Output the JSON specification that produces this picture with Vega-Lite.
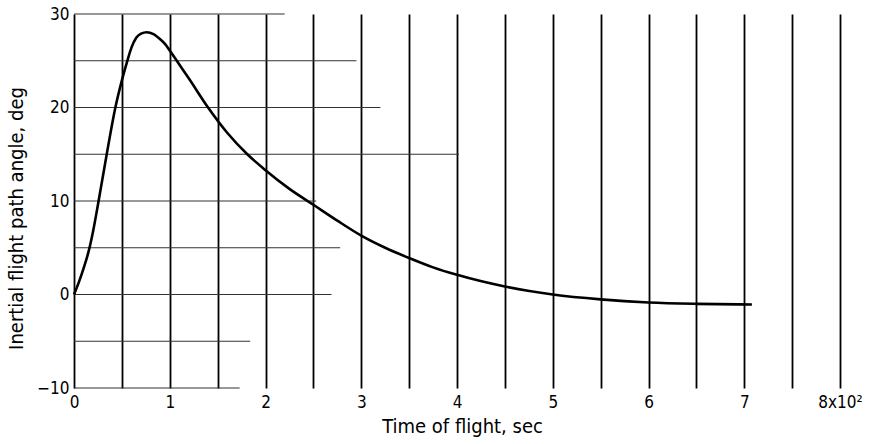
{
  "$schema": "https://vega.github.io/schema/vega-lite/v6.json",
  "width": 766,
  "height": 374,
  "autosize": {"type": "none"},
  "padding": {"left": 74, "top": 14, "right": 38, "bottom": 56},
  "background": "white",
  "config": {
    "view": {"stroke": null},
    "font": "DejaVu Sans Condensed",
    "axis": {"labelFont": "DejaVu Sans Condensed", "titleFont": "DejaVu Sans Condensed", "labelColor": "black", "titleColor": "black", "titleFontWeight": "normal", "labelFlush": false}
  },
  "datasets": {
    "curve": [
      {"t": 0, "angle": 0}, {"t": 0.05, "angle": 1.3}, {"t": 0.1, "angle": 2.8}, {"t": 0.15, "angle": 4.5},
      {"t": 0.2, "angle": 6.8}, {"t": 0.25, "angle": 9.6}, {"t": 0.34, "angle": 14.9}, {"t": 0.43, "angle": 19.9},
      {"t": 0.5, "angle": 22.9}, {"t": 0.56, "angle": 25.1}, {"t": 0.6, "angle": 26.4}, {"t": 0.65, "angle": 27.45},
      {"t": 0.7, "angle": 27.9}, {"t": 0.76, "angle": 28.05}, {"t": 0.83, "angle": 27.85}, {"t": 0.9, "angle": 27.3},
      {"t": 0.95, "angle": 26.8}, {"t": 1.0, "angle": 26.1}, {"t": 1.1, "angle": 24.6}, {"t": 1.2, "angle": 23.1},
      {"t": 1.4, "angle": 20.0}, {"t": 1.6, "angle": 17.3}, {"t": 1.81, "angle": 15.0}, {"t": 2.0, "angle": 13.3},
      {"t": 2.25, "angle": 11.3}, {"t": 2.5, "angle": 9.6}, {"t": 2.75, "angle": 7.9}, {"t": 3.0, "angle": 6.3},
      {"t": 3.25, "angle": 5.0}, {"t": 3.5, "angle": 3.9}, {"t": 3.75, "angle": 2.9}, {"t": 4.0, "angle": 2.1},
      {"t": 4.5, "angle": 0.85}, {"t": 5.0, "angle": 0.0}, {"t": 5.5, "angle": -0.52}, {"t": 6.0, "angle": -0.85},
      {"t": 6.5, "angle": -1.0}, {"t": 7.08, "angle": -1.07}
    ],
    "hgrid": [
      {"angle": 30, "start": 0, "end": 2.2},
      {"angle": 25, "start": 0, "end": 2.95},
      {"angle": 20, "start": 0, "end": 3.2},
      {"angle": 15, "start": 0, "end": 4.02},
      {"angle": 10, "start": 0, "end": 2.53},
      {"angle": 5, "start": 0, "end": 2.78},
      {"angle": 0, "start": 0, "end": 2.69},
      {"angle": -5, "start": 0, "end": 1.84},
      {"angle": -10, "start": 0, "end": 1.73}
    ]
  },
  "layer": [
    {
      "data": {"name": "hgrid"},
      "mark": {"type": "rule", "color": "#333", "strokeWidth": 1.2},
      "encoding": {
        "y": {"field": "angle", "type": "quantitative", "scale": {"domain": [-10, 30], "nice": false, "zero": false},
          "axis": {"values": [-10, 0, 10, 20, 30], "title": "Inertial flight path angle, deg", "titleFontSize": 20, "titlePadding": 10, "titleY": 204, "labelFontSize": 17, "labelPadding": 5, "ticks": false, "domain": false, "grid": false}},
        "x": {"field": "start", "type": "quantitative"},
        "x2": {"field": "end"}
      }
    },
    {
      "data": {"name": "curve"},
      "mark": {"type": "line", "color": "black", "strokeWidth": 2.6, "interpolate": "monotone"},
      "encoding": {
        "x": {"field": "t", "type": "quantitative", "scale": {"domain": [0, 8], "nice": false},
          "axis": {"values": [0, 0.5, 1, 1.5, 2, 2.5, 3, 3.5, 4, 4.5, 5, 5.5, 6, 6.5, 7, 7.5, 8],
            "labelExpr": "datum.value % 1 == 0 ? (datum.value == 8 ? '8x10²' : toString(datum.value)) : ''",
            "title": "Time of flight, sec", "titleFontSize": 20, "titlePadding": 6, "titleX": 388,
            "labelFontSize": 17, "labelPadding": 6, "ticks": false, "domain": false,
            "grid": true, "gridColor": "black", "gridWidth": 1.8, "gridOpacity": 1, "labelOverlap": false}},
        "y": {"field": "angle", "type": "quantitative"}
      }
    }
  ]
}
